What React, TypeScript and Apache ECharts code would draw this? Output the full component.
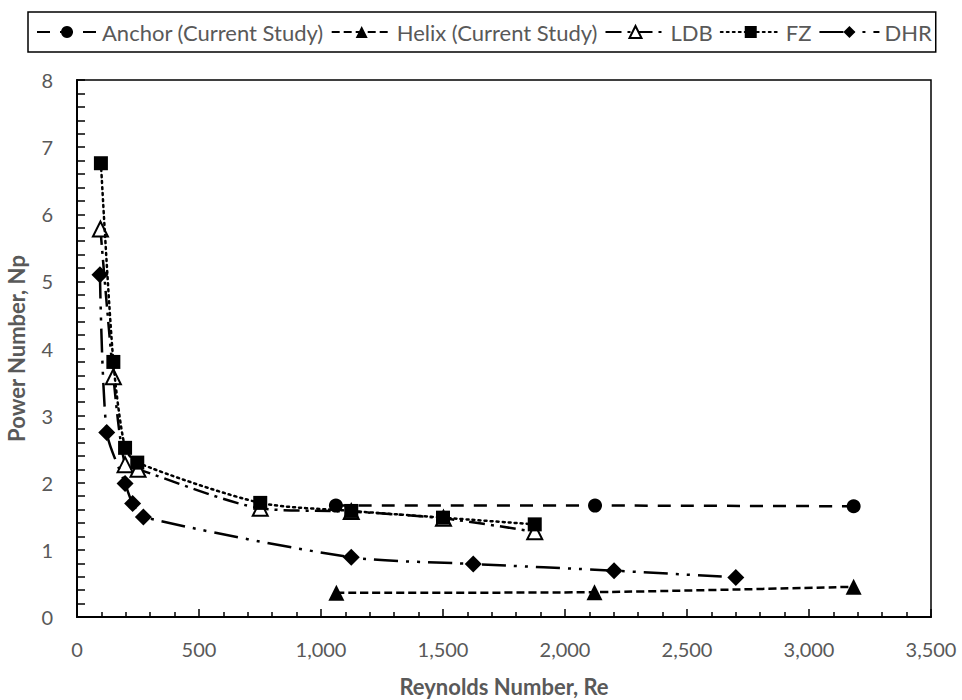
import React, { useEffect, useRef } from "react";
import * as echarts from "echarts";

const anchorRe = [1061, 2123, 3183];
const anchorNp = [1.66, 1.66, 1.65];

const helixRe = [1063, 2121, 3183];
const helixNp = [0.36, 0.37, 0.45];

const ldbRe = [96, 149, 197, 250, 751, 1124, 1502, 1876];
const ldbNp = [5.78, 3.58, 2.27, 2.2, 1.62, 1.57, 1.47, 1.27];

const fzRe = [98, 149, 197, 247, 751, 1124, 1500, 1876];
const fzNp = [6.76, 3.8, 2.52, 2.3, 1.7, 1.58, 1.48, 1.38];

const dhrRe = [94, 122, 197, 228, 272, 1124, 1624, 2201, 2700];
const dhrNp = [5.1, 2.75, 1.99, 1.69, 1.49, 0.89, 0.79, 0.69, 0.59];

const seriesNames = ["Anchor (Current Study)", "Helix (Current Study)", "LDB", "FZ", "DHR"];

const zip = (xs: number[], ys: number[]) => xs.map((x, i) => [x, ys[i]]);

const FONT = "Lato";
const GRAY = "#595959";

export default function App() {
  const ref = useRef<HTMLDivElement>(null);
  useEffect(() => {
    if (!ref.current) return;
    const chart = echarts.init(ref.current, undefined, { renderer: "svg" });
    const lineBase = { color: "#000", width: 2.5 };
    chart.setOption({
      animation: false,
      backgroundColor: "#fff",
      textStyle: { fontFamily: FONT },
      legend: {
        left: 28,
        top: 12,
        itemWidth: 60,
        itemHeight: 15,
        itemGap: 7,
        padding: [9, 4, 9, 8],
        borderColor: "#000",
        borderWidth: 1.5,
        textStyle: { color: GRAY, fontSize: 22, fontFamily: FONT },
        data: seriesNames,
      },
      grid: {
        left: 77,
        right: 31,
        top: 80,
        bottom: 83,
        outerBoundsMode: "none",
        containLabel: false,
        show: true,
        borderColor: "#000",
        borderWidth: 1.5,
        backgroundColor: "transparent",
      },
      xAxis: {
        type: "value",
        min: 0,
        max: 3500,
        interval: 500,
        name: "Reynolds Number, Re",
        nameLocation: "middle",
        nameGap: 58,
        nameTextStyle: { color: GRAY, fontSize: 22, fontWeight: "bold", fontFamily: FONT },
        axisLine: { lineStyle: { color: "#000", width: 2 } },
        axisTick: { inside: true, length: 8, lineStyle: { color: "#000", width: 1.5 } },
        minorTick: { show: true, splitNumber: 5, length: 5, lineStyle: { color: "#000", width: 1.5 } },
        splitLine: { show: false },
        axisLabel: {
          color: GRAY,
          fontSize: 20,
          margin: 22,
          fontFamily: FONT,
          formatter: (v: number) => v.toLocaleString("en-US"),
        },
      },
      yAxis: {
        type: "value",
        min: 0,
        max: 8,
        interval: 1,
        name: "Power Number, Np",
        nameLocation: "middle",
        nameGap: 50,
        nameTextStyle: { color: GRAY, fontSize: 22, fontWeight: "bold", fontFamily: FONT },
        axisLine: { show: true, lineStyle: { color: "#000", width: 2 } },
        axisTick: { show: true, inside: true, length: 8, lineStyle: { color: "#000", width: 1.5 } },
        minorTick: { show: true, splitNumber: 5, length: 8, lineStyle: { color: "#000", width: 1.5 } },
        splitLine: { show: false },
        axisLabel: { color: GRAY, fontSize: 20, margin: 24, fontFamily: FONT },
      },
      series: [
        {
          name: seriesNames[0],
          type: "line",
          data: zip(anchorRe, anchorNp),
          smooth: 0.25,
          symbol: "circle",
          symbolSize: 14,
          itemStyle: { color: "#000" },
          lineStyle: { ...lineBase, type: [13, 10] },
          z: 2,
        },
        {
          name: seriesNames[1],
          type: "line",
          data: zip(helixRe, helixNp),
          smooth: 0.25,
          symbol: "triangle",
          symbolSize: 16,
          itemStyle: { color: "#000" },
          lineStyle: { ...lineBase, type: [8, 4] },
          z: 2,
        },
        {
          name: seriesNames[2],
          type: "line",
          data: zip(ldbRe, ldbNp),
          smooth: 0.25,
          symbol: "triangle",
          symbolSize: 15,
          itemStyle: { color: "#fff", borderColor: "#000", borderWidth: 2 },
          lineStyle: { ...lineBase, type: [16, 6, 3, 6] },
          z: 3,
        },
        {
          name: seriesNames[3],
          type: "line",
          data: zip(fzRe, fzNp),
          smooth: 0.25,
          symbol: "rect",
          symbolSize: 14,
          itemStyle: { color: "#000" },
          lineStyle: { ...lineBase, type: [2, 4], cap: "round" },
          z: 4,
        },
        {
          name: seriesNames[4],
          type: "line",
          data: zip(dhrRe, dhrNp),
          smooth: 0.25,
          symbol: "diamond",
          symbolSize: 17,
          itemStyle: { color: "#000" },
          lineStyle: { ...lineBase, type: [24, 8, 3, 8, 3, 8] },
          z: 5,
        },
      ],
    });
    return () => chart.dispose();
  }, []);
  return (
    <div
      ref={ref}
      style={{ position: "absolute", left: 0, top: 0, width: 962, height: 700 }}
    />
  );
}
